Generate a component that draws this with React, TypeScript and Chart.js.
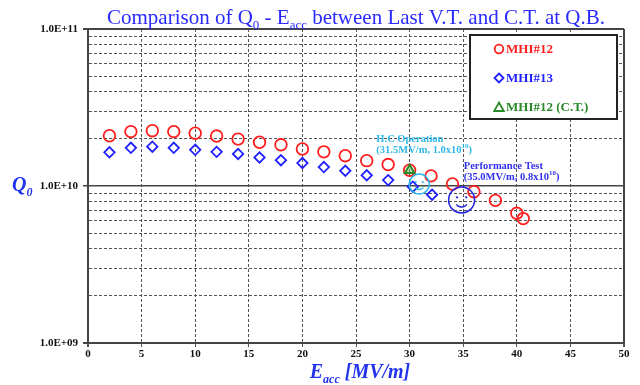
import React, { useEffect, useRef } from "react";
import { Chart, registerables } from "chart.js";

Chart.register(...registerables);

// ---- data ----
const eacc12 = [2, 4, 6, 8, 10, 12, 14, 16, 18, 20, 22, 24, 26, 28, 30, 32, 34, 36, 38, 40, 40.6];
const q12 = [2.09e10, 2.22e10, 2.25e10, 2.22e10, 2.17e10, 2.08e10, 1.99e10, 1.9e10, 1.83e10, 1.72e10, 1.65e10, 1.56e10, 1.45e10, 1.37e10, 1.26e10, 1.16e10, 1.03e10, 9.2e9, 8.1e9, 6.7e9, 6.2e9];
const eacc13 = [2, 4, 6, 8, 10, 12, 14, 16, 18, 20, 22, 24, 26, 28, 30.3, 32.1];
const q13 = [1.64e10, 1.75e10, 1.78e10, 1.75e10, 1.7e10, 1.65e10, 1.6e10, 1.52e10, 1.46e10, 1.4e10, 1.32e10, 1.25e10, 1.17e10, 1.09e10, 9.9e9, 8.8e9];
const eaccCT = [30];
const qCT = [1.26e10];

const xMin = 0;
const xMax = 50;
const xStep = 5;
const yMin = 1e9;
const yMax = 1e11;
const yMultipliers = [1, 2, 3, 4, 5, 6, 7, 8, 9];

const legendLabels = ["MHI#12", "MHI#13", "MHI#12 (C.T.)"];

// annotation anchors (data coordinates)
const hcCircle = [30.9, 1.03e10];
const ptCircle = [34.85, 8.15e9];
const hcLabel = [26.9, 1.99e10];
const ptLabel = [35.05, 1.345e10];
const hcLines = ["H.C Operation", "(31.5MV/m, 1.0x10", "10", ")"];
const ptLines = ["Performance Test", "(35.0MV/m, 0.8x10", "10", ")"];

const SERIF = "'Liberation Serif', 'Times New Roman', serif";
const RED = "#ff1e1e";
const BLUE = "#1f1fff";
const GREEN = "#2a8a2a";
const CYAN = "#2fb8ea";

const isDecade = (v: number) => Math.abs(Math.log10(v) - Math.round(Math.log10(v))) < 1e-9;

type Part = { t: string; sub?: boolean; sup?: boolean };

function drawParts(ctx: CanvasRenderingContext2D, parts: Part[], x: number, y: number, size: number, style: string, align: "left" | "center") {
  const widths = parts.map((p) => {
    ctx.font = `${style} ${p.sub || p.sup ? Math.round(size * 0.62) : size}px ${SERIF}`;
    return ctx.measureText(p.t).width;
  });
  const total = widths.reduce((a, b) => a + b, 0);
  let cx = align === "center" ? x - total / 2 : x;
  parts.forEach((p, i) => {
    ctx.font = `${style} ${p.sub || p.sup ? Math.round(size * 0.62) : size}px ${SERIF}`;
    const dy = p.sub ? size * 0.24 : p.sup ? -size * 0.38 : 0;
    ctx.fillText(p.t, cx, y + dy);
    cx += widths[i];
  });
}

function smiley(ctx: CanvasRenderingContext2D, cx: number, cy: number, r: number, color: string) {
  ctx.save();
  ctx.strokeStyle = color;
  ctx.fillStyle = color;
  ctx.lineWidth = 1.5;
  ctx.beginPath();
  ctx.arc(cx, cy, r, 0, Math.PI * 2);
  ctx.stroke();
  ctx.beginPath();
  ctx.arc(cx - r * 0.35, cy - r * 0.2, 1.1, 0, Math.PI * 2);
  ctx.arc(cx + r * 0.35, cy - r * 0.2, 1.1, 0, Math.PI * 2);
  ctx.fill();
  ctx.beginPath();
  ctx.arc(cx, cy + r * 0.05, r * 0.5, Math.PI * 0.2, Math.PI * 0.8);
  ctx.stroke();
  ctx.restore();
}

const decorPlugin = {
  id: "decor",
  afterDatasetsDraw(chart: any) {
    const { ctx, chartArea, scales } = chart;
    const xs = scales.x;
    const ys = scales.y;
    ctx.save();
    // annotation circles
    smiley(ctx, xs.getPixelForValue(hcCircle[0]), ys.getPixelForValue(hcCircle[1]), 10, CYAN);
    smiley(ctx, xs.getPixelForValue(ptCircle[0]), ys.getPixelForValue(ptCircle[1]), 13, "#2222dd");

    // annotation texts
    ctx.textBaseline = "middle";
    ctx.textAlign = "left";
    ctx.fillStyle = CYAN;
    let ax = xs.getPixelForValue(hcLabel[0]);
    let ay = ys.getPixelForValue(hcLabel[1]);
    drawParts(ctx, [{ t: hcLines[0] }], ax, ay, 10.5, "bold", "left");
    drawParts(ctx, [{ t: hcLines[1] }, { t: hcLines[2], sup: true }, { t: hcLines[3] }], ax, ay + 11, 10.5, "bold", "left");
    ctx.fillStyle = "#3030ee";
    ax = xs.getPixelForValue(ptLabel[0]);
    ay = ys.getPixelForValue(ptLabel[1]);
    drawParts(ctx, [{ t: ptLines[0] }], ax, ay, 10.5, "bold", "left");
    drawParts(ctx, [{ t: ptLines[1] }, { t: ptLines[2], sup: true }, { t: ptLines[3] }], ax, ay + 11, 10.5, "bold", "left");

    // legend box
    const bx = chartArea.right - 154;
    const by = chartArea.top + 6;
    const bw = 147;
    const bh = 84;
    ctx.fillStyle = "#ffffff";
    ctx.fillRect(bx, by, bw, bh);
    ctx.strokeStyle = "#222";
    ctx.lineWidth = 2;
    ctx.strokeRect(bx, by, bw, bh);
    const mx = bx + 29;
    const tx = bx + 36;
    const rows = [by + 14, by + 43, by + 72];
    ctx.lineWidth = 1.8;
    // circle
    ctx.strokeStyle = RED;
    ctx.beginPath();
    ctx.arc(mx, rows[0], 4.3, 0, Math.PI * 2);
    ctx.stroke();
    // diamond
    ctx.strokeStyle = BLUE;
    ctx.beginPath();
    ctx.moveTo(mx, rows[1] - 4.5);
    ctx.lineTo(mx + 4.5, rows[1]);
    ctx.lineTo(mx, rows[1] + 4.5);
    ctx.lineTo(mx - 4.5, rows[1]);
    ctx.closePath();
    ctx.stroke();
    // triangle
    ctx.strokeStyle = GREEN;
    ctx.beginPath();
    ctx.moveTo(mx, rows[2] - 4.5);
    ctx.lineTo(mx + 4.8, rows[2] + 4);
    ctx.lineTo(mx - 4.8, rows[2] + 4);
    ctx.closePath();
    ctx.stroke();
    ctx.font = `bold 13px ${SERIF}`;
    ctx.textBaseline = "middle";
    ctx.fillStyle = RED;
    ctx.fillText(legendLabels[0], tx, rows[0] + 1);
    ctx.fillStyle = BLUE;
    ctx.fillText(legendLabels[1], tx, rows[1] + 1);
    ctx.fillStyle = GREEN;
    ctx.fillText(legendLabels[2], tx, rows[2] + 1);

    // title
    ctx.fillStyle = "#2a2aff";
    ctx.textBaseline = "alphabetic";
    drawParts(
      ctx,
      [{ t: "Comparison of Q" }, { t: "0", sub: true }, { t: " - E" }, { t: "acc", sub: true }, { t: " between Last V.T. and C.T. at Q.B." }],
      356,
      24,
      21,
      "normal",
      "center"
    );
    // axis titles
    ctx.fillStyle = "#2233ee";
    drawParts(ctx, [{ t: "E" }, { t: "acc", sub: true }, { t: " [MV/m]" }], (chartArea.left + chartArea.right) / 2 + 4, 378, 20, "italic bold", "center");
    drawParts(ctx, [{ t: "Q" }, { t: "0", sub: true }], 12, ys.getPixelForValue(1e10) + 5, 20, "italic bold", "left");
    ctx.restore();
  },
};

export default function App() {
  const ref = useRef<HTMLCanvasElement | null>(null);
  useEffect(() => {
    if (!ref.current) return;
    const yTickValues: number[] = [];
    for (let d = yMin; d < yMax; d *= 10) {
      yMultipliers.forEach((m) => yTickValues.push(m * d));
    }
    yTickValues.push(yMax);

    const chart = new Chart(ref.current, {
      type: "scatter",
      data: {
        datasets: [
          {
            label: legendLabels[0],
            data: eacc12.map((x, i) => ({ x, y: q12[i] })),
            pointStyle: "circle",
            pointRadius: 5.8,
            borderWidth: 1.8,
            borderColor: RED,
            backgroundColor: "rgba(0,0,0,0)",
            order: 2,
          },
          {
            label: legendLabels[1],
            data: eacc13.map((x, i) => ({ x, y: q13[i] })),
            pointStyle: "rectRot",
            pointRadius: 5.2,
            borderWidth: 1.8,
            borderColor: BLUE,
            backgroundColor: "rgba(0,0,0,0)",
            order: 1,
          },
          {
            label: legendLabels[2],
            data: eaccCT.map((x, i) => ({ x, y: qCT[i] })),
            pointStyle: "triangle",
            pointRadius: 5.5,
            borderWidth: 2,
            borderColor: GREEN,
            backgroundColor: "rgba(120,190,100,0.5)",
            order: 0,
          },
        ],
      },
      options: {
        animation: false,
        responsive: false,
        devicePixelRatio: 1,
        layout: { padding: { top: 29, right: 16, left: 0, bottom: 0 } },
        plugins: { legend: { display: false }, tooltip: { enabled: false }, title: { display: false } },
        scales: {
          x: {
            type: "linear",
            min: xMin,
            max: xMax,
            afterFit: (s: any) => {
              s.height = 42;
            },
            ticks: {
              stepSize: xStep,
              color: "#111",
              font: { family: SERIF, size: 11, weight: "bold" },
              padding: 1,
              maxRotation: 0,
            },
            grid: {
              color: (c: any) => (c.tick && (c.tick.value === xMin || c.tick.value === xMax) ? "#444" : "#555"),
              lineWidth: (c: any) => (c.tick && (c.tick.value === xMin || c.tick.value === xMax) ? 2 : 1),
              tickLength: 4,
              tickColor: "#555",
              tickBorderDash: [],
            },
            border: {
              color: "#444",
              width: 2,
              dash: (c: any) => (c.tick && c.tick.value !== xMin && c.tick.value !== xMax ? [3, 2] : []),
            },
          },
          y: {
            type: "logarithmic",
            min: yMin,
            max: yMax,
            afterFit: (s: any) => {
              s.width = 88;
            },
            afterBuildTicks: (s: any) => {
              s.ticks = yTickValues.map((v) => ({ value: v, major: isDecade(v) }));
            },
            ticks: {
              autoSkip: false,
              color: "#111",
              font: { family: SERIF, size: 11, weight: "bold" },
              padding: 5,
              callback: (v: any) => {
                const n = Number(v);
                if (!isDecade(n)) return "";
                const e = Math.round(Math.log10(n));
                return "1.0E+" + String(e).padStart(2, "0");
              },
            },
            grid: {
              color: (c: any) => (c.tick && isDecade(c.tick.value) ? "#444" : "#555"),
              lineWidth: (c: any) => (c.tick && isDecade(c.tick.value) ? (c.tick.value === 1e10 ? 1.5 : 2) : 1),
              tickLength: 5,
              tickColor: (c: any) => (c.tick && isDecade(c.tick.value) ? "#444" : "rgba(0,0,0,0)"),
              tickBorderDash: [],
            },
            border: {
              color: "#444",
              width: 2,
              dash: (c: any) => (c.tick && !isDecade(c.tick.value) ? [3, 2] : []),
            },
          },
        },
      },
      plugins: [decorPlugin],
    } as any);
    return () => chart.destroy();
  }, []);

  return (
    <div style={{ position: "absolute", left: 0, top: 0, width: 640, height: 385, background: "#fff" }}>
      <canvas ref={ref} width={640} height={385} style={{ display: "block", width: 640, height: 385 }} />
    </div>
  );
}
